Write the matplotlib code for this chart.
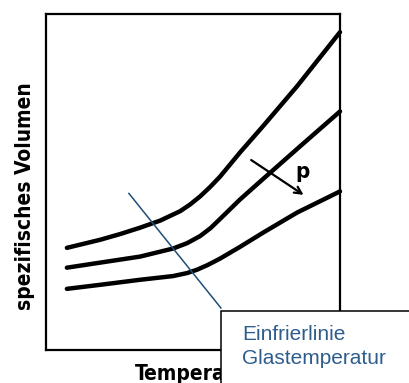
import matplotlib
matplotlib.use("Agg")
import matplotlib.pyplot as plt
from matplotlib.patches import Rectangle

# temperature (0..100) and specific volume (0..100)
temp_high = [7.1, 18.4, 25.2, 32.0, 38.8, 45.6, 49.0, 52.4, 55.8, 59.2, 66.0, 73.8, 85.4, 100]
vol_high = [30.4, 32.8, 34.5, 36.4, 38.5, 41.3, 43.3, 45.7, 48.5, 51.6, 58.8, 66.6, 78.5, 94.6]

temp_mid = [7.1, 18.4, 32.0, 43.2, 48.0, 52.4, 56.0, 59.2, 66.0, 72.8, 86.4, 100]
vol_mid = [24.5, 26.0, 27.8, 30.2, 31.8, 33.9, 36.3, 39.0, 44.8, 50.1, 60.6, 71.0]

temp_low = [7.1, 18.4, 32.0, 43.2, 48.0, 51.4, 55.0, 59.2, 66.0, 73.8, 85.4, 100]
vol_low = [18.2, 19.4, 20.9, 22.0, 22.9, 23.9, 25.3, 27.2, 30.7, 34.9, 40.9, 47.2]

# Einfrierlinie (freeze line)
freeze_temp = [28.2, 59.5]
freeze_vol = [46.6, 12.5]

# pressure arrow start / end
arrow_start = (69.0, 57.0)
arrow_end = (88.4, 45.7)

fig = plt.figure(figsize=(4.10, 3.83), dpi=100)
ax = fig.add_axes([46 / 410, 33 / 383, 294 / 410, 336 / 383])
ax.set_xlim(0, 100)
ax.set_ylim(0, 100)
ax.set_xticks([])
ax.set_yticks([])
for s in ax.spines.values():
    s.set_linewidth(1.6)

for t, v in [(temp_high, vol_high), (temp_mid, vol_mid), (temp_low, vol_low)]:
    ax.plot(t, v, color="black", lw=3.2, solid_capstyle="round",
            solid_joinstyle="round", clip_on=False)

ax.plot(freeze_temp, freeze_vol, color="#1f4e79", lw=1.1)

ax.annotate("", xy=arrow_end, xytext=arrow_start,
            arrowprops=dict(arrowstyle="->,head_length=0.5,head_width=0.25",
                            color="black", lw=1.6))
ax.text(87.4, 53.0, "p", fontsize=16, family="DejaVu Sans",
        fontstretch="condensed", fontweight="bold", ha="center", va="center")

fig.text(25 / 410, 1 - 196 / 383, "spezifisches Volumen", rotation=90,
         fontsize=15, family="DejaVu Sans", fontstretch="condensed",
         fontweight="bold", ha="center", va="center")
fig.text(135 / 410, 1 - 380 / 383, "Temperatur", fontsize=15,
         family="DejaVu Sans", fontstretch="condensed", fontweight="bold",
         ha="left", va="baseline")

# label box covering lower right corner
box = Rectangle((221 / 410, -0.2), 0.6, 0.2 + 1 - 311 / 383,
                transform=fig.transFigure, facecolor="white",
                edgecolor="black", lw=1.1, zorder=10)
fig.add_artist(box)
fig.text(242 / 410, 1 - 340 / 383, "Einfrierlinie", fontsize=15,
         family="Liberation Sans", color="#2e5d8c", va="baseline",
         zorder=11)
fig.text(242 / 410, 1 - 364 / 383, "Glastemperatur", fontsize=15,
         family="Liberation Sans", color="#2e5d8c", va="baseline",
         zorder=11)

fig.savefig("out.png", dpi=100)
